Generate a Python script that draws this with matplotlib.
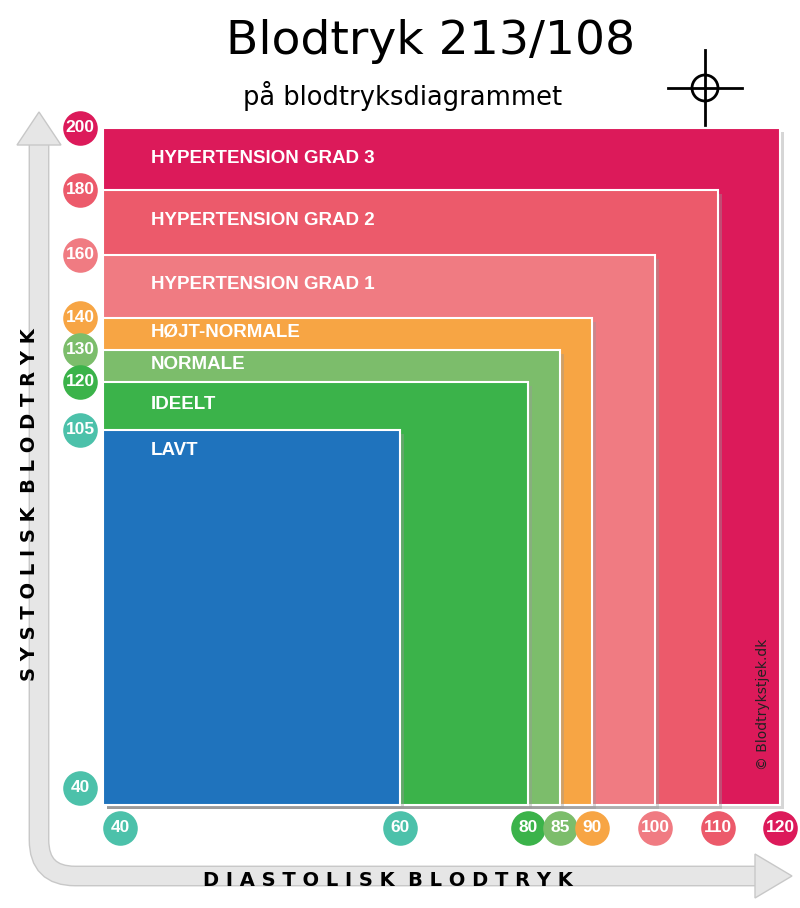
import numpy as np
import matplotlib
matplotlib.use('Agg')
import matplotlib.pyplot as plt
from matplotlib import patches
from matplotlib import patheffects as pe
from matplotlib.path import Path
from matplotlib.transforms import blended_transform_factory, offset_copy

# categories: label, systolic top, diastolic right, colour
labels = ['HYPERTENSION GRAD 3', 'HYPERTENSION GRAD 2', 'HYPERTENSION GRAD 1',
          'HØJT-NORMALE', 'NORMALE', 'IDEELT', 'LAVT']
systolic = [200, 180, 160, 140, 130, 120, 105]
diastolic = [120, 110, 100, 90, 85, 80, 60]
colors = ['#dc1a5a', '#ec5a6b', '#f07b82', '#f7a544', '#7cbd6b', '#3bb34a', '#1f73bd']
label_drop = [31, 31, 30, 14, 15, 23, 21]  # px below the top edge

xticks = [40, 60, 80, 85, 90, 100, 110, 120]
xtick_colors = ['#4cc1aa', '#4cc1aa', '#3bb34a', '#7cbd6b', '#f7a544', '#f07b82', '#ec5a6b', '#dc1a5a']
yticks = [200, 180, 160, 140, 130, 120, 105, 40]
ytick_colors = ['#dc1a5a', '#ec5a6b', '#f07b82', '#f7a544', '#7cbd6b', '#3bb34a', '#4cc1aa', '#4cc1aa']

# the chart's scales are not linear: pixel position of each value
xv = [40, 60, 80, 85, 90, 100, 110, 120]
xp = [103, 400, 528, 560, 592, 655, 718, 780]
yv = [40, 105, 120, 130, 140, 160, 180, 200]
yp = [805, 430, 382, 350, 318, 255, 190, 128]

def xf(v): return np.interp(v, xv, xp)
def xi(p): return np.interp(p, xp, xv)
def yf(v): return -np.interp(v, yv, yp)
def yi(p): return np.interp(-np.asarray(p), yp[::-1], yv[::-1])

W, H = 800, 908
fig = plt.figure(figsize=(8, 9.08), dpi=100)

# decoration layer in pixel coords
bg = fig.add_axes([0, 0, 1, 1])
bg.set_xlim(0, W); bg.set_ylim(H, 0); bg.axis('off')
grey, edge = '#e6e6e6', '#c8c8c8'
verts = [(39, 140), (39, 840), (39, 876), (75, 876), (760, 876)]
codes = [Path.MOVETO, Path.LINETO, Path.CURVE3, Path.CURVE3, Path.LINETO]
for lw, c in ((15, edge), (13, grey)):
    bg.add_patch(patches.PathPatch(Path(verts, codes), fill=False, lw=lw, color=c, capstyle='butt'))
bg.add_patch(patches.Polygon([(17, 145), (39, 112), (61, 145)], fc=grey, ec=edge, lw=1))
bg.add_patch(patches.Polygon([(755, 854), (792, 876), (755, 898)], fc=grey, ec=edge, lw=1))

bg.text(30, 505, '  '.join(' '.join(w) for w in ['SYSTOLISK', 'BLODTRYK']),
        rotation=90, ha='center', va='center', fontsize=14, fontweight='bold')
bg.text(388, 880, '  '.join(' '.join(w) for w in ['DIASTOLISK', 'BLODTRYK']),
        ha='center', va='center', fontsize=14, fontweight='bold')
bg.text(431, 42, 'Blodtryk 213/108', ha='center', va='center', fontsize=34)
bg.text(403, 96, 'på blodtryksdiagrammet', ha='center', va='center', fontsize=18.5)
# crosshair
bg.add_patch(patches.Circle((705, 88), 13, fill=False, lw=2, color='black'))
bg.plot([668, 742], [88, 88], color='black', lw=2)
bg.plot([705, 705], [50, 125], color='black', lw=2)

ax = fig.add_axes([103 / W, (H - 805) / H, (780 - 103) / W, (805 - 128) / H])
ax.set_xscale('function', functions=(xf, xi))
ax.set_yscale('function', functions=(yf, yi))
ax.set_xlim(40, 120); ax.set_ylim(40, 200)
ax.axis('off')

shadow = [pe.SimplePatchShadow(offset=(3, -3), shadow_rgbFace='#999999', alpha=0.4), pe.Normal()]
for lab, s, d, c, dy in zip(labels, systolic, diastolic, colors, label_drop):
    r = patches.Rectangle((40, 40), d - 40, s - 40, fc=c, ec='white', lw=1.5, clip_on=False,
                          path_effects=shadow)
    ax.add_patch(r)
    t = offset_copy(ax.transData, fig=fig, x=48, y=-dy, units='dots')
    ax.text(40, s, lab, transform=t, color='white', fontsize=13.5, fontweight='bold',
            ha='left', va='center', fontfamily='Liberation Sans')

ax.text(117.3, 46, '© Blodtrykstjek.dk', rotation=90, ha='center', va='bottom',
        fontsize=10, color='#222222')

# tick circles
tx = blended_transform_factory(ax.transData, ax.transAxes)
for v, c in zip(xticks, xtick_colors):
    t = offset_copy(tx, fig=fig, x=17 if v == 40 else 0, units='dots')
    ax.scatter([v], [-23 / 677], s=620, color=c, transform=t, clip_on=False, zorder=5, lw=0)
    ax.text(v, -23 / 677, str(v), transform=t, ha='center', va='center', color='white',
            fontsize=12.5, fontweight='bold', zorder=6, fontfamily='Liberation Sans')
ty = blended_transform_factory(ax.transAxes, ax.transData)
for v, c in zip(yticks, ytick_colors):
    t = offset_copy(ty, fig=fig, y=17 if v == 40 else 0, units='dots')
    ax.scatter([-23 / 677], [v], s=620, color=c, transform=t, clip_on=False, zorder=5, lw=0)
    ax.text(-23 / 677, v, str(v), transform=t, ha='center', va='center', color='white',
            fontsize=12.5, fontweight='bold', zorder=6, fontfamily='Liberation Sans')

fig.savefig('out.png', dpi=100)
